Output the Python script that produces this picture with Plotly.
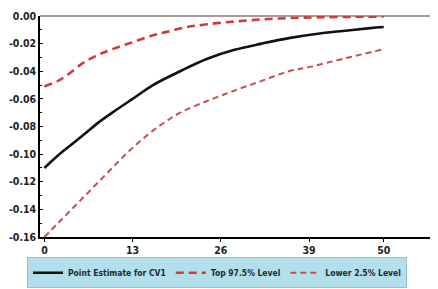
import plotly.graph_objects as go

# Point estimate (black)
est_x = [0, 2, 4, 6, 8, 10, 13, 16, 20, 24, 28, 32, 36, 40, 44, 48, 50]
est_y = [-0.110, -0.101, -0.093, -0.085, -0.077, -0.070, -0.060, -0.050, -0.040,
         -0.031, -0.0245, -0.020, -0.016, -0.013, -0.0108, -0.0088, -0.0080]

# Top 97.5% level
top_x = [0, 2, 3.3, 5.7, 8, 10, 13, 16, 18, 21, 24, 28, 32, 36, 40, 45, 50]
top_y = [-0.051, -0.047, -0.043, -0.034, -0.028, -0.024, -0.019, -0.014, -0.0115,
         -0.008, -0.006, -0.004, -0.0025, -0.0015, -0.0010, -0.0006, -0.0004]

# Lower 2.5% level
low_x = [0, 2, 4, 6, 8, 10, 12, 14, 16, 18, 20, 24, 28, 32, 36, 39, 44, 50]
low_y = [-0.160, -0.150, -0.140, -0.130, -0.120, -0.110, -0.100, -0.091, -0.083,
         -0.076, -0.070, -0.0615, -0.054, -0.047, -0.040, -0.037, -0.031, -0.024]

x_ticks = [0, 13, 26, 39, 50]
y_ticks = [0.00, -0.02, -0.04, -0.06, -0.08, -0.10, -0.12, -0.14, -0.16]
y_labels = ["0.00", "-0.02", "-0.04", "-0.06", "-0.08", "-0.10", "-0.12", "-0.14", "-0.16"]

FONT = "DejaVu Sans Condensed, Liberation Sans Narrow, Liberation Sans, sans-serif"

fig = go.Figure()
fig.add_trace(go.Scatter(x=est_x, y=est_y, mode="lines", name="Point Estimate for CV1",
                         line=dict(color="#111111", width=2.6, shape="spline")))
fig.add_trace(go.Scatter(x=top_x, y=top_y, mode="lines", name="Top 97.5% Level",
                         line=dict(color="#d23a3a", width=2.6, dash="8px,5px", shape="spline")))
fig.add_trace(go.Scatter(x=low_x, y=low_y, mode="lines", name="Lower 2.5% Level",
                         line=dict(color="#c94f4f", width=2, dash="6px,4px", shape="spline")))

# page body has an 8px default margin, so the figure is sized to fit the window
fig.update_layout(
    width=430, height=281,
    margin=dict(l=32, r=0, t=8, b=52, autoexpand=False),
    paper_bgcolor="white", plot_bgcolor="white",
    font=dict(family=FONT, size=10, color="#222222", weight="bold"),
    showlegend=True,
    legend=dict(orientation="h", x=-13/398, xanchor="left", y=-0.232, yanchor="bottom",
                bgcolor="#b3dfea", bordercolor="#8fc4d2", borderwidth=1,
                font=dict(family=FONT, size=8.5, color="#1a2a30", weight="bold"),
                itemwidth=30, tracegroupgap=0),
)
fig.update_xaxes(range=[-0.65, 58], tickvals=x_ticks, ticktext=[str(v) for v in x_ticks],
                 showline=True, linecolor="black", linewidth=1.5,
                 ticks="outside", ticklen=3, tickcolor="black",
                 showgrid=False, zeroline=False,
                 tickfont=dict(family=FONT, size=10.5, color="#222222", weight="bold"))
fig.update_yaxes(range=[-0.16, 0.0], tickvals=y_ticks, ticktext=y_labels,
                 showline=True, linecolor="black", linewidth=1.5,
                 ticks="inside", ticklen=3, tickcolor="black",
                 minor=dict(tickvals=[-0.01, -0.03, -0.05, -0.07, -0.09, -0.11, -0.13, -0.15],
                            ticks="inside", ticklen=2, tickcolor="black"),
                 showgrid=False, zeroline=True, zerolinecolor="#a89c98", zerolinewidth=1.5,
                 tickfont=dict(family=FONT, size=10.5, color="#222222", weight="bold"))

fig.write_html("out.html")
